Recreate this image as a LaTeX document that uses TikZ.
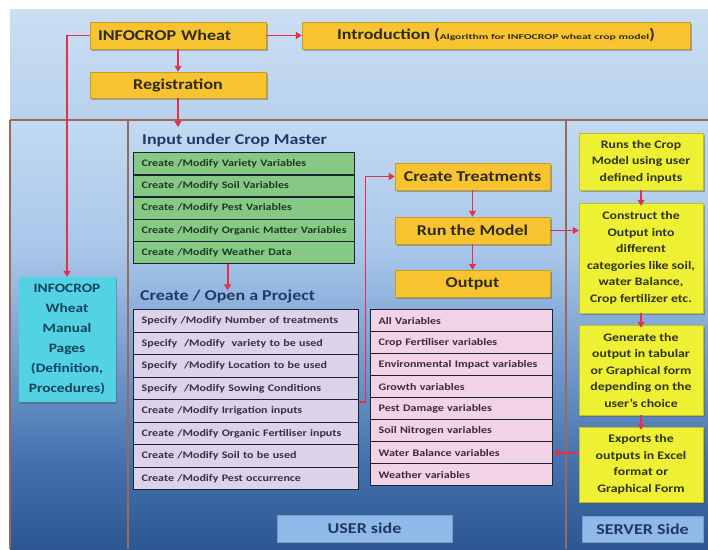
\documentclass[tikz,border=0pt]{standalone}
\usepackage{fontspec}
\setmainfont{Carlito}[FakeStretch=1.2]
\usetikzlibrary{arrows.meta,shadows}
\definecolor{pdk}{HTML}{2C5792}
\definecolor{pmA}{HTML}{4471AD}
\definecolor{pmB}{HTML}{6B95CA}
\definecolor{pmC}{HTML}{A9C7EA}
\definecolor{plt}{HTML}{C2D9F1}
\definecolor{topA}{HTML}{CBDFF4}
\definecolor{topB}{HTML}{B8D1EC}
\definecolor{orng}{HTML}{F7C42F}
\definecolor{otxt}{HTML}{2E2A1E}
\definecolor{yel}{HTML}{EEF034}
\definecolor{ytxt}{HTML}{2F3318}
\definecolor{grn}{HTML}{86C985}
\definecolor{gtxt}{HTML}{1E3A22}
\definecolor{lav}{HTML}{DCD2E9}
\definecolor{ltxt}{HTML}{3A2E44}
\definecolor{pnk}{HTML}{F1D3E5}
\definecolor{ptxt}{HTML}{3E2B38}
\definecolor{cyanb}{HTML}{52D2E2}
\definecolor{ctxt}{HTML}{17415E}
\definecolor{usr}{HTML}{8FB9E8}
\definecolor{utxt}{HTML}{1F3864}
\definecolor{headc}{HTML}{1F3A66}
\definecolor{rowb}{HTML}{1B2433}
\definecolor{redc}{HTML}{E4304C}
\definecolor{sepc}{HTML}{9C6A58}
\pgfdeclareverticalshading{panelsh}{100bp}{color(0bp)=(pdk); color(25bp)=(pdk); color(35bp)=(pmA); color(45bp)=(pmB); color(60bp)=(pmC); color(75bp)=(plt); color(100bp)=(plt)}
\begin{document}
\begin{tikzpicture}[x=1pt,y=-1pt,
  arr/.style={draw=redc,line width=1.8pt,-{Triangle[length=6pt,width=7pt]}},
  sepline/.style={draw=sepc,line width=1.8pt},
  shad/.style={drop shadow={shadow xshift=1.6pt,shadow yshift=-1.6pt,opacity=.4,fill=black!70}},
  obox/.style={shad,fill=orng,draw=orng!80!black,line width=.5pt,text=otxt,
    font=\bfseries\fontsize{15}{18}\selectfont,inner sep=0pt,minimum height=27pt},
  ybox/.style={shad,fill=yel,draw=yel!80!black,line width=.5pt,text=ytxt,align=center,
    font=\bfseries\fontsize{11.5}{16.5}\selectfont,inner sep=0pt,minimum width=124pt},
  head/.style={text=headc,font=\bfseries\fontsize{15}{18}\selectfont,inner sep=0pt},
  listrow/.style={draw=rowb,line width=1.4pt,anchor=north west,inner xsep=8pt,inner ysep=0pt,
    align=left,font=\bfseries\fontsize{10}{11}\selectfont},
  sidebox/.style={fill=usr,text=utxt,font=\bfseries\fontsize{15}{18}\selectfont,inner sep=0pt,
    draw=usr!85!black,line width=.4pt}
]
\useasboundingbox (0,0) rectangle (708,549);
\fill[white] (0,0) rectangle (708,549);
\shade[top color=topA,bottom color=topB] (10,9) rectangle (708,120);
\shade[shading=panelsh] (10,120) rectangle (708,549);
\draw[sepline] (10,120) -- (708,120);
\draw[sepline] (10,120) -- (10,549);
\draw[sepline] (128,120) -- (128,549);
\draw[sepline] (566,120) -- (566,549);

% top boxes
\node[obox,minimum width=176pt,text width=160pt,align=left,inner xsep=8pt] (wheat) at (178,35.5) {INFOCROP Wheat};
\node[obox,minimum width=388pt] (intro) at (496,35.5) {Introduction (\scalebox{1.3}[1]{\fontsize{7.5}{8}\selectfont Algorithm for INFOCROP wheat crop model})};
\node[obox,minimum width=176pt,minimum height=26pt] (reg) at (178,85) {Registration};
\coordinate (regend) at (178,127);

% left manual box
\node[shad,fill=cyanb,text=ctxt,align=center,inner sep=0pt,minimum width=97pt,minimum height=125pt,
  font=\bfseries\fontsize{12.8}{20}\selectfont] (manual) at (67,339.5)
  {INFOCROP\\Wheat\\Manual\\Pages\\(Definition,\\Procedures)};

% headings
\node[head,anchor=west] (crophead) at (142,140) {Input under Crop Master};
\node[head,anchor=west] (projhead) at (140,296) {Create / Open a Project};

% green list
\foreach \t [count=\i] in {Create /Modify Variety Variables,Create /Modify Soil Variables,
  Create /Modify Pest Variables,Create /Modify Organic Matter Variables,Create /Modify Weather Data}
  \node[listrow,fill=grn,text=gtxt,text width=205pt,minimum height=22.2pt] (g\i) at (133,{152+(\i-1)*22.2}) {\t};

% lavender list
\foreach \t [count=\i] in {Specify /Modify Number of treatments,Specify~ /Modify~ variety to be used,
  Specify~ /Modify Location to be used,Specify~ /Modify Sowing Conditions,Create /Modify Irrigation inputs,
  Create /Modify Organic Fertiliser inputs,Create /Modify Soil to be used,Create /Modify Pest occurrence}
  \node[listrow,fill=lav,text=ltxt,text width=209pt,minimum height=22.5pt] (l\i) at (133,{309+(\i-1)*22.5}) {\t};

% pink list
\foreach \t [count=\i] in {All Variables,Crop Fertiliser variables,Environmental Impact variables,
  Growth variables,Pest Damage variables,Soil Nitrogen variables,Water Balance variables,Weather variables}
  \node[listrow,fill=pnk,text=ptxt,text width=166pt,minimum height=22pt] (p\i) at (370,{309+(\i-1)*22}) {\t};

% middle orange boxes
\node[obox,minimum width=155pt] (treat) at (472.5,176.5) {Create Treatments};
\node[obox,minimum width=155pt] (run) at (472.5,230.5) {Run the Model};
\node[obox,minimum width=155pt] (out) at (472.5,283.5) {Output};

% right yellow boxes
\node[ybox,minimum height=57pt] (ya) at (641,161.5) {Runs the Crop\\Model using user\\defined inputs};
\node[ybox,minimum height=110pt] (yb) at (641,258) {Construct the\\Output into\\different\\categories like soil,\\water Balance,\\Crop fertilizer etc.};
\node[ybox,minimum height=90pt] (yc) at (641,370) {Generate the\\output in tabular\\or Graphical form\\depending on the\\user's choice};
\node[ybox,minimum height=75pt] (yd) at (641,464.5) {Exports the\\outputs in Excel\\format or\\Graphical Form};

% side labels
\node[sidebox,minimum width=175pt,minimum height=27pt] (user) at (364.5,528.5) {USER side};
\node[sidebox,minimum width=121pt,minimum height=26pt] (server) at (642.5,529) {SERVER Side};

% connectors
\draw[arr] (wheat.east) -- (intro.west);
\draw[arr] (wheat.south) -- (reg.north);
\draw[arr] (reg.south) -- (regend);
\draw[arr] (wheat.west) -| (manual.north);
\draw[arr] (g5.south -| projhead.north) -- ([yshift=-1pt]projhead.north);
\draw[arr] ([yshift=-3pt]l5.north east) -- ++(6,0) |- (treat.west);
\draw[arr] (treat.south) -- (run.north);
\draw[arr] (run.south) -- (out.north);
\draw[arr] (run.east) -- (run.east -| ya.west);
\draw[arr] (ya.south) -- ([yshift=-3pt]yb.north);
\draw[arr] (yb.south) -- ([yshift=-3pt]yc.north);
\draw[arr] (yc.south) -- ([yshift=-3pt]yd.north);
\draw[arr] (yd.west |- p7.east) -- (p7.east);
\end{tikzpicture}
\end{document}
